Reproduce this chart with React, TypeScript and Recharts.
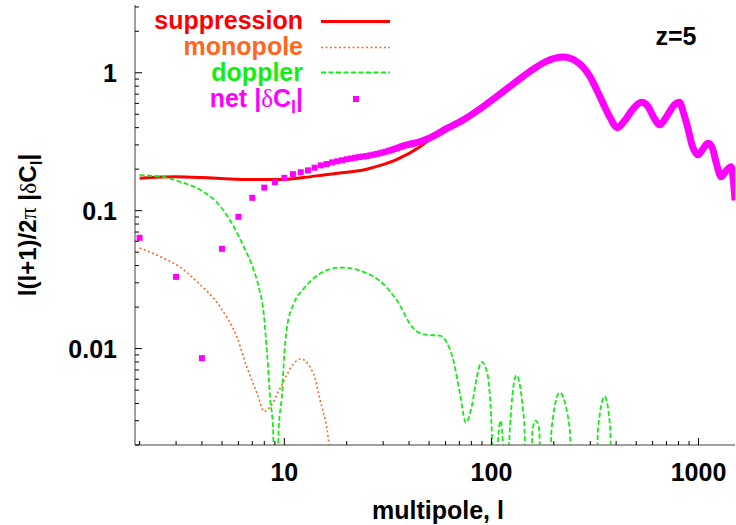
import React from 'react';
import { ComposedChart, Line, Scatter, XAxis, YAxis, Legend } from 'recharts';

document.body.style.margin = '0';

const FONT = '"Liberation Sans", Arial, Helvetica, sans-serif';
const SYM = '"Liberation Serif", "DejaVu Serif", serif';

const RED = '#ff0000';
const ORANGE = '#ff6622';
const GREEN = '#11ee11';
const MAGENTA = '#ff00ff';
const FRAME = { stroke: '#808080', strokeWidth: 1.5 };

// [multipole l, l(l+1)/2pi |dC_l|]
const suppression = [
  [2, 0.172], [3, 0.176], [4, 0.174], [5.5, 0.17], [7, 0.168], [9.6, 0.168], [12.4, 0.174],
  [16.6, 0.184], [20, 0.19], [24, 0.197], [29, 0.213], [35, 0.236], [45, 0.29], [50, 0.326],
  [60, 0.385], [73, 0.45], [90, 0.555], [106, 0.665], [130, 0.845], [153, 1.01], [184, 1.2],
  [222, 1.29], [257, 1.2], [280, 1.07], [299, 0.93], [320, 0.76], [346, 0.595], [375, 0.465],
  [405, 0.4], [440, 0.45], [480, 0.54], [530, 0.6], [570, 0.56], [610, 0.47], [649, 0.42],
  [700, 0.48], [760, 0.58], [809, 0.6], [850, 0.5], [887, 0.4], [930, 0.3], [995, 0.254],
  [1050, 0.28], [1110, 0.305], [1160, 0.29], [1220, 0.22], [1286, 0.176], [1360, 0.195],
  [1438, 0.205], [1470, 0.17], [1500, 0.119],
];

const monopole = [
  [2, 0.0537], [2.53, 0.0462], [3.2, 0.0381], [3.8, 0.0304], [4.9, 0.02], [5.9, 0.0121],
  [6.6, 0.0073], [7.4, 0.0047], [8.0, 0.0035], [8.56, 0.0038], [9.56, 0.0052], [11.1, 0.0078],
  [12, 0.0084], [13.8, 0.0066], [14.9, 0.0042], [16.1, 0.00255], [17, 0.0013], [18, 0.0006],
];

const doppler = [
  [2, 0.181], [2.62, 0.175], [3.14, 0.162], [3.94, 0.141], [4.92, 0.107], [5.7, 0.0764],
  [6.37, 0.0547], [7.12, 0.037], [7.52, 0.028], [7.95, 0.0179], [8.25, 0.0092], [8.56, 0.0042],
  [8.82, 0.0026], [9.05, 0.0004], [9.39, 0.0026], [9.75, 0.0047], [10, 0.0092], [10.3, 0.0143],
  [11.1, 0.0212], [12.4, 0.0272], [14.9, 0.035], [18.6, 0.0387], [24.1, 0.036], [30, 0.0295],
  [34.9, 0.0224], [42, 0.014], [46.9, 0.0127], [52, 0.0125], [56.5, 0.0124], [60.8, 0.0111],
  [65.5, 0.0082], [70.5, 0.0047], [75.3, 0.0029], [80.3, 0.0038], [85, 0.0062], [89.7, 0.008],
  [94.9, 0.0069], [100.3, 0.0026], [103, 0.0005], [106, 0.0015], [110.7, 0.003], [114, 0.0018],
  [117, 0.0005], [122.7, 0.0026], [132, 0.0064], [142, 0.0036], [144.5, 0.0026], [148, 0.0005],
  [154, 0.0005], [158, 0.0026], [163.7, 0.003], [170, 0.0026], [175, 0.0005], [190, 0.0005],
  [195, 0.0026], [213.6, 0.0048], [239, 0.0026], [246, 0.0005], [318, 0.0005], [327, 0.0026],
  [352, 0.0045], [375, 0.0026], [382, 0.0005], [1500, 0.0005],
];

// net |dC_l|: one point per multipole at low l, a dense band above l~36
const netPoints = [
  [2, 0.0636], [3, 0.0331], [4, 0.00853], [5, 0.0529], [6, 0.0903], [7, 0.124], [8, 0.147],
  [9, 0.161], [10, 0.173], [11, 0.184], [12, 0.19], [13, 0.196], [14, 0.205], [15, 0.213],
  [16, 0.218], [17, 0.224], [18, 0.228], [19, 0.232], [20, 0.236], [21, 0.239], [22, 0.242],
  [23, 0.245], [24, 0.247], [25, 0.249], [26, 0.252], [27, 0.255], [28, 0.258], [29, 0.261],
  [30, 0.265], [31, 0.268], [32, 0.272], [33, 0.276], [34, 0.28], [35, 0.284], [36, 0.289],
];

const netBand = [
  [36, 0.289], [40, 0.302], [45, 0.316], [50, 0.335], [60, 0.39], [73, 0.455], [90, 0.56],
  [106, 0.673], [130, 0.85], [153, 1.02], [184, 1.21], [222, 1.3], [257, 1.21], [280, 1.08],
  [299, 0.94], [320, 0.77], [346, 0.6], [375, 0.47], [405, 0.4], [440, 0.45], [480, 0.54],
  [530, 0.61], [570, 0.57], [610, 0.47], [649, 0.42], [700, 0.48], [760, 0.58], [809, 0.61],
  [850, 0.5], [887, 0.4], [930, 0.3], [995, 0.254], [1050, 0.28], [1110, 0.308], [1160, 0.29],
  [1220, 0.22], [1286, 0.176], [1360, 0.195], [1438, 0.208], [1470, 0.17], [1500, 0.119],
];

const xTicks = [2, 3, 4, 5, 6, 7, 8, 9, 10, 20, 30, 40, 50, 60, 70, 80, 90, 100, 200, 300, 400, 500, 600, 700, 800, 900, 1000];
const xMajor = [10, 100, 1000];
const yTicks = [
  0.002, 0.003, 0.004, 0.005, 0.006, 0.007, 0.008, 0.009, 0.01, 0.02, 0.03, 0.04, 0.05, 0.06,
  0.07, 0.08, 0.09, 0.1, 0.2, 0.3, 0.4, 0.5, 0.6, 0.7, 0.8, 0.9, 1, 2, 3,
];
const yMajor = [0.01, 0.1, 1];

const toPts = (arr: number[][]) => arr.map(([l, v]) => ({ l, v }));

const labelStyle = { fontFamily: FONT, fontWeight: 700, fontSize: 25, fill: '#000' };

function BottomTick(props: any) {
  const { x, y, payload } = props;
  const major = xMajor.includes(payload.value);
  return (
    <g>
      <line x1={x} x2={x} y1={y} y2={y - (major ? 7 : 4)} stroke="#000" />
      {major && (
        <text x={x} y={y + 36} textAnchor="middle" style={labelStyle}>
          {payload.value}
        </text>
      )}
    </g>
  );
}

function TopTick(props: any) {
  const { x, y, payload } = props;
  const major = xMajor.includes(payload.value);
  return <line x1={x} x2={x} y1={y} y2={y + (major ? 7 : 4)} stroke="#000" />;
}

function LeftTick(props: any) {
  const { x, y, payload } = props;
  const major = yMajor.includes(payload.value);
  return (
    <g>
      <line x1={x} x2={x + (major ? 7 : 4)} y1={y} y2={y} stroke="#000" />
      {major && (
        <text x={x - 18} y={y + 9} textAnchor="end" style={labelStyle}>
          {payload.value}
        </text>
      )}
    </g>
  );
}

function RightTick(props: any) {
  const { x, y, payload } = props;
  const major = yMajor.includes(payload.value);
  return <line x1={x} x2={x - (major ? 7 : 4)} y1={y} y2={y} stroke="#000" />;
}

function YTitle(props: any) {
  const vb = props.viewBox || { x: 0, y: 5, width: 135, height: 440 };
  const cx = vb.x + 36;
  const cy = vb.y + vb.height / 2;
  return (
    <text
      x={cx}
      y={cy}
      transform={`rotate(-90 ${cx} ${cy})`}
      textAnchor="middle"
      style={{ fontFamily: FONT, fontWeight: 700, fontSize: 24, fill: '#000' }}
    >
      <tspan>l(l+1)/2</tspan>
      <tspan style={{ fontFamily: SYM, fontWeight: 400 }}>π</tspan>
      <tspan> |</tspan>
      <tspan style={{ fontFamily: SYM, fontWeight: 400 }}>δ</tspan>
      <tspan>C</tspan>
      <tspan dy={6} style={{ fontSize: 17 }}>l</tspan>
      <tspan dy={-6}>|</tspan>
    </text>
  );
}

function XTitle(props: any) {
  const vb = props.viewBox || { x: 135, y: 445, width: 600, height: 80 };
  return (
    <text x={vb.x + vb.width / 2 + 3} y={vb.y + 74} textAnchor="middle" style={labelStyle}>
      multipole, l
    </text>
  );
}

const legendText = { fontFamily: FONT, fontWeight: 700, fontSize: 25 };

function LegendBox() {
  const tx = 303;
  const base = [29, 55, 81, 107];
  return (
    <svg width={736} height={130} style={{ display: 'block' }}>
      <text x={tx} y={base[0]} textAnchor="end" style={{ ...legendText, fill: RED }}>suppression</text>
      <line x1={321} x2={390} y1={base[0] - 7.5} y2={base[0] - 7.5} stroke={RED} strokeWidth={3} />
      <text x={tx} y={base[1]} textAnchor="end" style={{ ...legendText, fill: ORANGE }}>monopole</text>
      <line x1={321} x2={390} y1={base[1] - 7.5} y2={base[1] - 7.5} stroke={ORANGE} strokeWidth={1.6} strokeDasharray="2 2.5" />
      <text x={tx} y={base[2]} textAnchor="end" style={{ ...legendText, fill: GREEN }}>doppler</text>
      <line x1={321} x2={390} y1={base[2] - 8.5} y2={base[2] - 8.5} stroke={GREEN} strokeWidth={1.8} strokeDasharray="5 2.5" />
      <text x={tx} y={base[3]} textAnchor="end" style={{ ...legendText, fill: MAGENTA }}>
        <tspan>net |</tspan>
        <tspan style={{ fontFamily: SYM, fontWeight: 400 }}>δ</tspan>
        <tspan>C</tspan>
        <tspan dy={6} style={{ fontSize: 18 }}>l</tspan>
        <tspan dy={-6}>|</tspan>
      </text>
      <rect x={353} y={base[3] - 11} width={6} height={6} fill={MAGENTA} />
      <text x={676} y={45} textAnchor="middle" style={{ fontFamily: FONT, fontWeight: 700, fontSize: 25, fill: '#000' }}>
        z=5
      </text>
    </svg>
  );
}

const Square = (p: any) => <rect x={p.cx - 3} y={p.cy - 3} width={6} height={6} fill={MAGENTA} />;

export default function App() {
  return (
    <div style={{ width: 736, height: 525, background: '#fff' }}>
      <ComposedChart width={736} height={525} margin={{ top: 5, right: 1, bottom: 0, left: 0 }}>
        <XAxis
          dataKey="l"
          type="number"
          scale="log"
          domain={[1.9, 1500]}
          allowDataOverflow
          ticks={xTicks}
          interval={0}
          tickLine={false}
          tickSize={0}
          tickMargin={0}
          tick={BottomTick}
          axisLine={FRAME}
          height={80}
          label={{ content: XTitle }}
        />
        <XAxis
          xAxisId="top"
          orientation="top"
          dataKey="l"
          type="number"
          scale="log"
          domain={[1.9, 1500]}
          allowDataOverflow
          ticks={xTicks}
          interval={0}
          tickLine={false}
          tickSize={0}
          tickMargin={0}
          tick={TopTick}
          axisLine={FRAME}
          height={0}
        />
        <YAxis
          dataKey="v"
          type="number"
          scale="log"
          domain={[0.002, 3.1]}
          allowDataOverflow
          ticks={yTicks}
          interval={0}
          tickLine={false}
          tickSize={0}
          tickMargin={0}
          tick={LeftTick}
          axisLine={FRAME}
          width={135}
          label={{ content: YTitle }}
        />
        <YAxis
          yAxisId="right"
          orientation="right"
          dataKey="v"
          type="number"
          scale="log"
          domain={[0.002, 3.1]}
          allowDataOverflow
          ticks={yTicks}
          interval={0}
          tickLine={false}
          tickSize={0}
          tickMargin={0}
          tick={RightTick}
          axisLine={FRAME}
          width={0}
        />
        <Legend
          layout="vertical"
          align="center"
          verticalAlign="middle"
          wrapperStyle={{ left: 0, top: 0, width: 736, height: 130, pointerEvents: 'none' }}
          content={() => <LegendBox />}
        />
        <Line data={toPts(suppression)} dataKey="v" type="monotone" stroke={RED} strokeWidth={3} dot={false} activeDot={false} isAnimationActive={false} />
        <Line data={toPts(monopole)} dataKey="v" type="monotone" stroke={ORANGE} strokeWidth={1.6} strokeDasharray="2 2.5" dot={false} activeDot={false} isAnimationActive={false} />
        <Line data={toPts(doppler)} dataKey="v" type="monotone" stroke={GREEN} strokeWidth={1.8} strokeDasharray="5 2.5" dot={false} activeDot={false} isAnimationActive={false} />
        <Line data={toPts(netBand)} dataKey="v" type="monotone" stroke={MAGENTA} strokeWidth={7} dot={false} activeDot={false} isAnimationActive={false} />
        <Scatter data={toPts(netPoints)} dataKey="v" shape={Square} isAnimationActive={false} />
      </ComposedChart>
    </div>
  );
}
